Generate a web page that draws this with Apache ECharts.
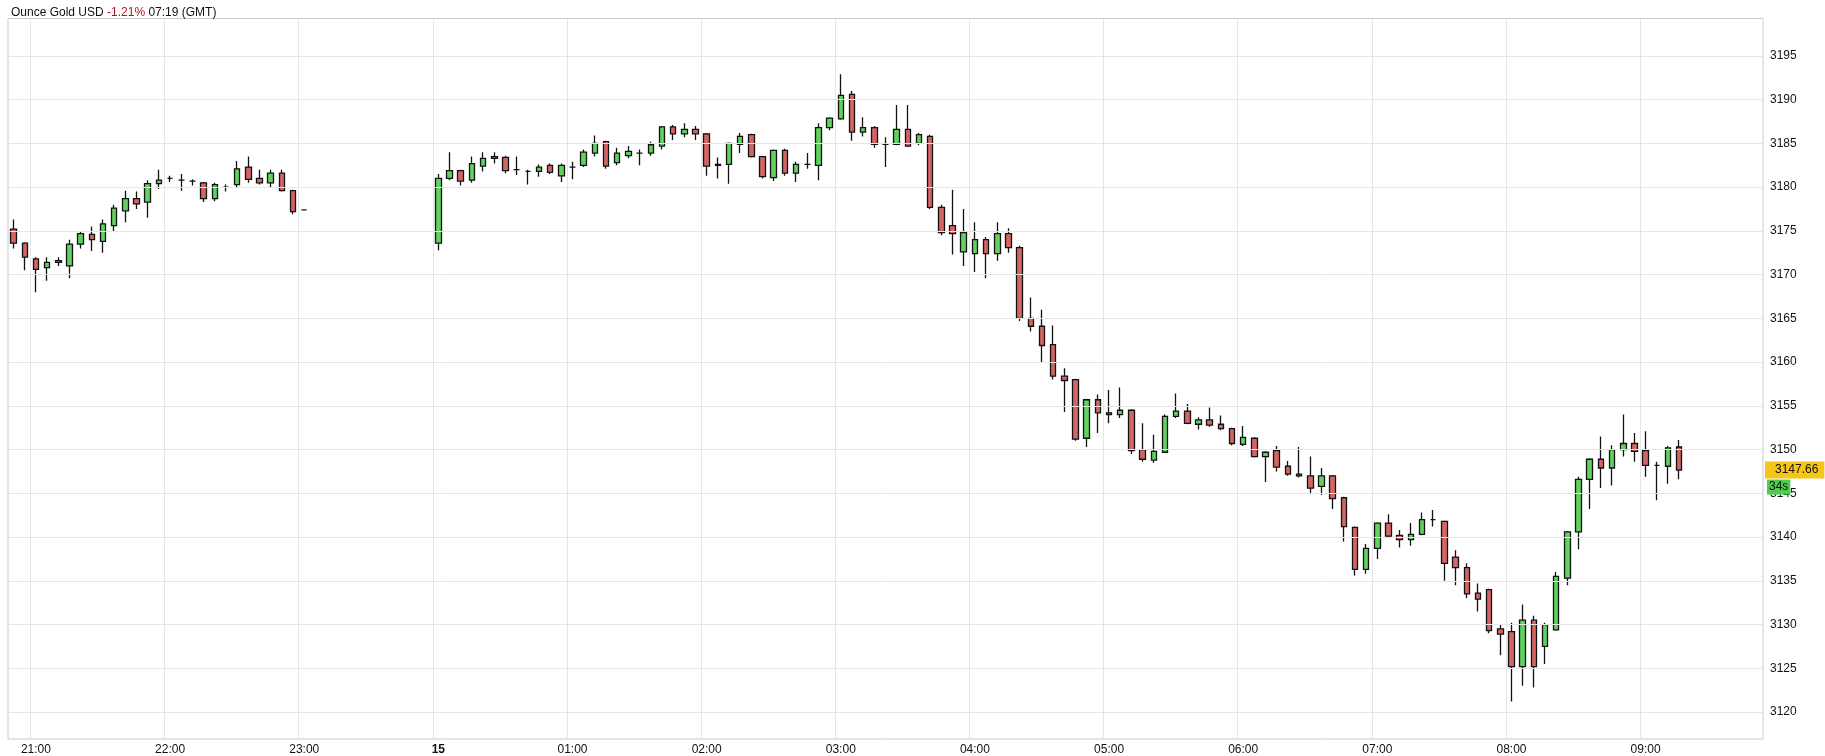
<!DOCTYPE html>
<html>
<head>
<meta charset="utf-8">
<script src="https://cdn.jsdelivr.net/npm/echarts@6/dist/echarts.min.js"></script>
<style>
  html, body { margin: 0; padding: 0; background: #fff; }
  #chart { width: 1825px; height: 756px; }
</style>
</head>
<body>
<div id="chart"></div>
<script>
// 5 min candles, [open, close, low, high]
const session1 = [
  [3175.2, 3173.6, 3173.0, 3176.3], [3173.6, 3172.0, 3170.5, 3173.7], [3171.8, 3170.6, 3168.0, 3172.0],
  [3170.8, 3171.4, 3169.3, 3172.0], [3171.4, 3171.6, 3171.0, 3172.0], [3171.0, 3173.5, 3169.6, 3174.0],
  [3173.5, 3174.7, 3173.0, 3175.0], [3174.6, 3174.0, 3172.7, 3175.5], [3173.8, 3175.8, 3172.5, 3176.3],
  [3175.6, 3177.6, 3175.0, 3178.0], [3177.3, 3178.7, 3176.0, 3179.6], [3178.7, 3178.1, 3177.5, 3179.5],
  [3178.3, 3180.4, 3176.5, 3180.8], [3180.4, 3180.8, 3179.8, 3182.0], [3181.0, 3181.0, 3180.6, 3181.3],
  [3180.8, 3180.8, 3179.6, 3181.5], [3180.7, 3180.7, 3180.2, 3180.9], [3180.5, 3178.7, 3178.3, 3180.6],
  [3178.7, 3180.3, 3178.4, 3180.5], [3180.0, 3180.0, 3179.5, 3180.3], [3180.3, 3182.1, 3180.0, 3183.0],
  [3182.3, 3180.9, 3180.5, 3183.5], [3181.0, 3180.5, 3180.3, 3182.0], [3180.5, 3181.6, 3180.0, 3182.0],
  [3181.6, 3179.6, 3179.5, 3182.0], [3179.6, 3177.2, 3176.9, 3179.7], [3177.4, 3177.4, 3177.4, 3177.4]
];
const session2 = [
  [3173.6, 3181.0, 3172.8, 3181.5], [3181.0, 3181.9, 3180.8, 3184.0], [3181.9, 3180.7, 3180.2, 3182.0],
  [3180.8, 3182.7, 3180.5, 3183.5], [3182.4, 3183.3, 3181.8, 3184.0], [3183.3, 3183.5, 3182.7, 3184.0],
  [3183.4, 3181.9, 3181.6, 3183.6], [3182.0, 3182.0, 3181.4, 3183.5], [3181.8, 3181.8, 3180.3, 3182.0],
  [3181.8, 3182.3, 3181.2, 3182.6], [3182.5, 3181.7, 3181.5, 3182.7], [3181.3, 3182.5, 3180.6, 3182.7],
  [3182.3, 3182.3, 3180.9, 3182.9], [3182.5, 3184.0, 3182.3, 3184.3], [3183.9, 3185.0, 3183.5, 3185.9],
  [3185.2, 3182.4, 3182.1, 3185.3], [3182.8, 3183.9, 3182.5, 3184.5], [3183.6, 3184.1, 3183.3, 3184.7],
  [3183.9, 3183.9, 3182.5, 3184.3], [3183.9, 3184.85, 3183.6, 3185.2], [3184.7, 3186.9, 3184.3, 3187.0],
  [3186.9, 3186.1, 3185.4, 3187.1], [3186.1, 3186.6, 3185.7, 3187.3], [3186.6, 3186.1, 3185.4, 3187.0],
  [3186.1, 3182.4, 3181.3, 3186.2], [3182.5, 3182.6, 3181.0, 3183.4], [3182.6, 3185.0, 3180.4, 3185.1],
  [3184.9, 3185.8, 3183.9, 3186.2], [3186.0, 3183.5, 3183.4, 3186.1], [3183.5, 3181.2, 3181.0, 3183.6],
  [3181.1, 3184.2, 3180.7, 3184.3], [3184.2, 3181.6, 3181.3, 3184.4], [3181.6, 3182.6, 3180.6, 3182.9],
  [3182.6, 3182.6, 3182.1, 3183.9], [3182.5, 3186.8, 3180.8, 3187.3], [3186.8, 3187.9, 3186.5, 3188.0],
  [3187.8, 3190.5, 3187.7, 3192.9], [3190.6, 3186.3, 3185.3, 3191.0], [3186.3, 3186.8, 3185.8, 3188.0],
  [3186.8, 3184.9, 3184.5, 3187.0], [3184.9, 3184.9, 3182.3, 3185.7], [3184.9, 3186.6, 3184.8, 3189.4],
  [3186.6, 3184.7, 3184.6, 3189.4], [3185.0, 3186.0, 3184.8, 3186.2], [3185.8, 3177.7, 3177.5, 3186.0],
  [3177.7, 3174.8, 3174.5, 3178.0], [3175.6, 3174.7, 3172.3, 3179.7], [3172.6, 3174.8, 3171.0, 3177.5],
  [3172.4, 3174.0, 3170.3, 3176.0], [3174.0, 3172.4, 3169.6, 3174.3], [3172.4, 3174.7, 3171.6, 3176.0],
  [3174.7, 3173.1, 3172.5, 3175.3], [3173.1, 3165.0, 3164.7, 3173.3], [3165.0, 3164.1, 3163.5, 3167.4],
  [3164.1, 3161.9, 3160.0, 3166.0], [3162.0, 3158.4, 3158.0, 3164.2], [3158.4, 3157.9, 3154.3, 3159.3],
  [3158.0, 3151.2, 3151.0, 3158.1], [3151.3, 3155.7, 3150.3, 3155.8], [3155.7, 3154.2, 3151.9, 3156.3],
  [3154.2, 3154.0, 3153.0, 3156.8], [3154.0, 3154.5, 3153.6, 3157.1], [3154.5, 3149.9, 3149.5, 3154.6],
  [3150.0, 3148.9, 3148.6, 3153.0], [3148.8, 3149.8, 3148.5, 3151.7], [3149.7, 3153.8, 3149.6, 3154.0],
  [3153.8, 3154.4, 3153.6, 3156.4], [3154.4, 3153.0, 3152.9, 3155.2], [3152.9, 3153.4, 3152.3, 3153.7],
  [3153.4, 3152.8, 3152.6, 3154.8], [3152.9, 3152.4, 3152.2, 3153.9], [3152.4, 3150.7, 3150.5, 3152.5],
  [3150.6, 3151.4, 3150.4, 3152.7], [3151.3, 3149.2, 3149.1, 3151.4], [3149.2, 3149.7, 3146.3, 3149.8],
  [3149.9, 3148.0, 3147.5, 3150.4], [3148.1, 3147.2, 3147.0, 3148.7], [3147.2, 3147.0, 3146.8, 3150.3],
  [3147.0, 3145.6, 3144.9, 3149.2], [3145.8, 3147.0, 3144.8, 3147.9], [3147.0, 3144.4, 3143.2, 3147.1],
  [3144.5, 3141.2, 3139.5, 3144.6], [3141.1, 3136.3, 3135.6, 3141.2], [3136.3, 3138.7, 3135.8, 3139.2],
  [3138.7, 3141.6, 3137.5, 3141.7], [3141.6, 3140.1, 3140.0, 3142.6], [3140.2, 3139.7, 3138.8, 3140.8],
  [3139.7, 3140.3, 3139.0, 3141.6], [3140.3, 3142.0, 3140.2, 3142.8], [3142.0, 3142.0, 3141.2, 3143.1],
  [3141.8, 3137.0, 3135.0, 3141.9], [3137.7, 3136.5, 3134.5, 3138.5], [3136.5, 3133.5, 3133.0, 3137.0],
  [3133.6, 3132.9, 3131.5, 3134.7], [3134.0, 3129.3, 3129.0, 3134.1], [3129.5, 3128.9, 3126.5, 3130.0],
  [3129.2, 3125.2, 3121.2, 3130.2], [3125.2, 3130.5, 3123.0, 3132.3], [3130.5, 3125.2, 3122.8, 3131.0],
  [3127.5, 3130.0, 3125.5, 3130.2], [3129.4, 3135.5, 3129.3, 3136.0], [3135.3, 3140.6, 3134.5, 3140.7],
  [3140.6, 3146.6, 3138.6, 3146.9], [3146.6, 3148.9, 3143.2, 3149.0], [3148.9, 3147.9, 3145.6, 3151.5],
  [3147.9, 3150.0, 3145.9, 3150.5], [3150.0, 3150.7, 3149.2, 3154.0], [3150.7, 3149.8, 3148.6, 3151.9],
  [3149.9, 3148.2, 3146.9, 3152.1], [3148.2, 3148.2, 3144.2, 3148.6], [3148.1, 3150.2, 3146.1, 3150.4],
  [3150.3, 3147.66, 3146.6, 3151.1]
];
const priceTicks = [3120, 3125, 3130, 3135, 3140, 3145, 3150, 3155, 3160, 3165, 3170, 3175, 3180, 3185, 3190, 3195];
const lastPrice = 3147.66;
const countdown = '34s';

// time slots 20:50 .. 09:50 every 5 minutes
const times = [];
for (let m = 20 * 60 + 50; m <= 24 * 60 + 9 * 60 + 50; m += 5) {
  const h = Math.floor(m / 60) % 24;
  times.push(String(h).padStart(2, '0') + ':' + String(m % 60).padStart(2, '0'));
}
const gap = new Array(11).fill('-'); // 23:05 .. 23:55 closed
const candles = session1.concat(gap, session2);
while (candles.length < times.length) candles.push('-');

const isHour = (i) => times[i].endsWith(':00');

const chart = echarts.init(document.getElementById('chart'));
chart.setOption({
  animation: false,
  backgroundColor: '#fff',
  title: {
    left: 6, top: 2,
    text: '{a|Ounce Gold USD }{b|-1.21%}{a| 07:19 (GMT)}',
    textStyle: {
      fontWeight: 'normal',
      rich: {
        a: { fontFamily: 'Liberation Sans', fontSize: 12, fontWeight: 'normal', color: '#111' },
        b: { fontFamily: 'Liberation Sans', fontSize: 12, fontWeight: 'normal', color: '#b0141c' }
      }
    }
  },
  grid: { left: 8, right: 62, top: 18.5, bottom: 16, show: true, borderColor: '#c9c9c9', borderWidth: 1 },
  xAxis: {
    type: 'category',
    data: times,
    boundaryGap: true,
    axisLine: { show: false },
    axisTick: { show: false },
    splitLine: {
      show: true,
      interval: (i) => isHour(i),
      lineStyle: { color: '#e6e6e6', width: 1 }
    },
    axisLabel: {
      interval: (i) => isHour(i),
      margin: 5,
      fontFamily: 'Liberation Sans',
      fontSize: 12,
      color: '#111',
      formatter: (v) => v === '00:00' ? '{d|15}' : v,
      rich: { d: { fontWeight: 'bold', fontSize: 12, fontFamily: 'Liberation Sans', color: '#111' } }
    }
  },
  yAxis: {
    type: 'value',
    position: 'right',
    min: 3116.92,
    max: 3199.28,
    scale: true,
    axisLine: { show: false },
    axisTick: { show: false },
    axisLabel: { show: false },
    splitLine: { show: false }
  },
  series: [
    {
      type: 'candlestick',
      data: candles,
      barWidth: 6,
      itemStyle: {
        color: '#5fd35f',
        color0: '#d46565',
        borderColor: '#111',
        borderColor0: '#111',
        borderWidth: 1.3
      },
      markLine: {
        silent: true,
        symbol: 'none',
        animation: false,
        lineStyle: { color: '#e6e6e6', type: 'solid', width: 1 },
        label: {
          position: 'end', distance: 7, color: '#111',
          fontFamily: 'Liberation Sans', fontSize: 12,
          formatter: (p) => String(p.value)
        },
        data: priceTicks.map((v) => ({ yAxis: v })).concat([
          {
            name: 'last',
            yAxis: lastPrice,
            lineStyle: { color: 'rgba(0,0,0,0)', width: 0 },
            label: {
              distance: 2, formatter: String(lastPrice), backgroundColor: '#f5c518',
              padding: [3, 6, 2, 10], color: '#111', fontSize: 12
            }
          },
          {
            name: 'timer',
            yAxis: lastPrice - 0.001,
            lineStyle: { color: 'rgba(0,0,0,0)', width: 0 },
            label: {
              distance: 4, offset: [0, 17], formatter: countdown, backgroundColor: '#4fcc4f',
              padding: [2, 2, 1, 2], color: '#111', fontSize: 12
            }
          }
        ])
      }
    }
  ]
});
</script>
</body>
</html>
